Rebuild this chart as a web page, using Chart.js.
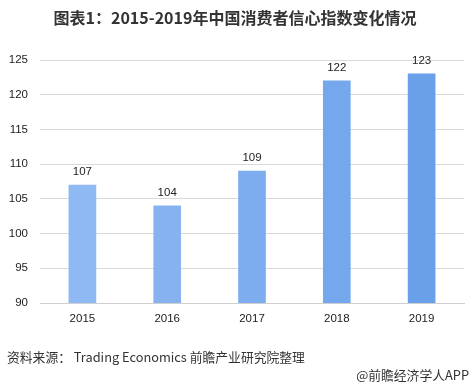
<!DOCTYPE html>
<html><head><meta charset="utf-8">
<script src="https://cdn.jsdelivr.net/npm/chart.js@4/dist/chart.umd.min.js"></script>
<style>
html,body{margin:0;padding:0;background:#fff;}
#wrap{position:relative;width:470px;height:389px;overflow:hidden;}
#title{position:absolute;left:0;width:470px;top:6px;text-align:center;font:bold 16px "Noto Sans CJK SC",sans-serif;color:#333;line-height:22px;}
#src{position:absolute;left:7px;top:347px;font:12.8px "Noto Sans CJK SC",sans-serif;color:#333;line-height:20px;white-space:nowrap;}
#app{position:absolute;right:1px;top:365px;font:12.8px "Noto Sans CJK SC",sans-serif;color:#333;line-height:20px;white-space:nowrap;}
canvas{position:absolute;left:0;top:0;}
</style></head>
<body><div id="wrap">
<canvas id="c" width="470" height="389"></canvas>
<div id="title">图表1：2015-2019年中国消费者信心指数变化情况</div>
<div id="src">资料来源： Trading Economics 前瞻产业研究院整理</div>
<div id="app">@前瞻经济学人APP</div>
</div>
<script>
const categories = ['2015','2016','2017','2018','2019'];
const values = [107, 104, 109, 122, 123];
const barColors = ['#8fb9f2','#86b3f0','#7dadee','#74a7ec','#6aa0ea'];
const yMin = 90, yMax = 125, yStep = 5;

const labelPlugin = {
  id:'vlabels',
  afterDatasetsDraw(chart){
    const ctx = chart.ctx;
    const meta = chart.getDatasetMeta(0);
    ctx.save();
    ctx.font = '11.5px "Liberation Sans", sans-serif';
    ctx.fillStyle = '#222';
    ctx.textAlign = 'center';
    ctx.textBaseline = 'middle';
    meta.data.forEach((el,i)=>{
      ctx.fillText(String(values[i]), el.x, el.y - 13);
    });
    ctx.restore();
  }
};

new Chart(document.getElementById('c'), {
  type:'bar',
  data:{labels:categories, datasets:[{data:values, backgroundColor:barColors, barThickness:27, borderWidth:0}]},
  options:{
    responsive:false, animation:false,
    layout:{padding:{top:60,right:6,bottom:66,left:0}},
    plugins:{legend:{display:false}, tooltip:{enabled:false}},
    scales:{
      x:{
        grid:{display:false, drawTicks:false},
        border:{display:true,color:'#cfcfcf',width:1},
        ticks:{padding:9,color:'#222',font:{family:'"Liberation Sans", sans-serif',size:11.5}},
        afterFit(s){s.height=20;}
      },
      y:{
        min:yMin, max:yMax,
        grid:{color:'#d9d9d9', drawTicks:false},
        border:{display:false},
        ticks:{stepSize:yStep,padding:12,color:'#222',font:{family:'"Liberation Sans", sans-serif',size:11.5}},
        afterFit(s){s.width=40;}
      }
    }
  },
  plugins:[labelPlugin]
});
</script>
</body></html>
